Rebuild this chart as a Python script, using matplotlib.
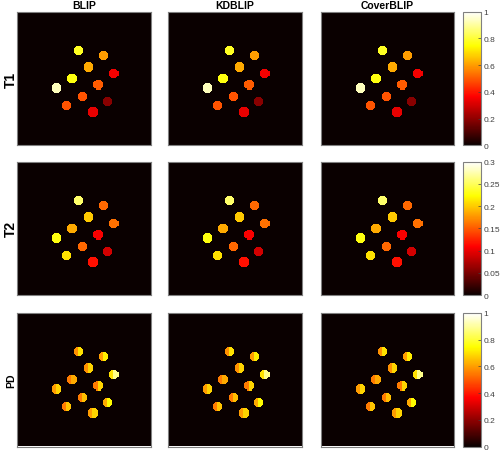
import numpy as np
import matplotlib
matplotlib.use('Agg')
import matplotlib.pyplot as plt
from matplotlib.ticker import FormatStrFormatter

plt.rcParams['font.family'] = ['Liberation Sans', 'DejaVu Sans']

methods = ['BLIP', 'KDBLIP', 'CoverBLIP']
params = ['T1', 'T2', 'PD']
vmax = [1.0, 0.3, 1.0]
cbar_ticks = [[0, 0.2, 0.4, 0.6, 0.8, 1],
              [0, 0.05, 0.1, 0.15, 0.2, 0.25, 0.3],
              [0, 0.2, 0.4, 0.6, 0.8, 1]]

# phantom tube centres (image pixels, 128x128 grid) and radius
cx = [58, 82, 68, 92, 52, 77, 37, 62, 86, 47, 72]
cy = [37, 42, 53, 59, 64, 70, 73, 81, 86, 90, 96]
radius = 4.8

# values per tube
t1 = [0.78, 0.60, 0.62, 0.35, 0.76, 0.50, 0.93, 0.49, 0.19, 0.49, 0.33]
t2 = [0.255, 0.156, 0.20, 0.16, 0.186, 0.107, 0.228, 0.156, 0.09, 0.21, 0.117]
# PD tubes look split: redder left half, brighter right half
pd_left = [0.58, 0.60, 0.58, 0.70, 0.55, 0.55, 0.60, 0.55, 0.62, 0.55, 0.60]
pd_right = [0.70, 0.72, 0.68, 0.88, 0.62, 0.68, 0.68, 0.65, 0.74, 0.66, 0.68]

N = 128
yy, xx = np.mgrid[0:N, 0:N]


def phantom(left, right):
    img = np.zeros((N, N))
    for i in range(len(cx)):
        d = (xx - cx[i]) ** 2 + (yy - cy[i]) ** 2 <= radius ** 2
        img[d & (xx < cx[i])] = left[i]
        img[d & (xx >= cx[i])] = right[i]
    return img


maps = [phantom(t1, t1), phantom(t2, t2), phantom(pd_left, pd_right)]

W, H = 500, 452
fig = plt.figure(figsize=(W / 100, H / 100), dpi=100)

col_left = [17, 168, 320.7]
row_top = [12.7, 162.7, 314]
size = 133.5
cb_left, cb_w = 463.3, 18

for r in range(3):
    for c in range(3):
        ax = fig.add_axes([col_left[c] / W, 1 - (row_top[r] + size) / H, size / W, size / H])
        im = ax.imshow(maps[r], cmap='hot', vmin=0, vmax=vmax[r],
                       interpolation='nearest', aspect='auto')
        ax.set_xticks([])
        ax.set_yticks([])
        for s in ax.spines.values():
            s.set_color('#808080')
            s.set_linewidth(0.8)
        if r == 0:
            ax.set_title(methods[c], fontsize=7.5, fontweight='bold', pad=3)
        if c == 0:
            fs = 10 if r < 2 else 7.5
            fig.text(11 / W, 1 - (row_top[r] + size / 2) / H, params[r],
                     rotation=90, fontsize=fs, fontweight='bold',
                     ha='center', va='center')
    cax = fig.add_axes([cb_left / W, 1 - (row_top[r] + size) / H, cb_w / W, size / H])
    cb = fig.colorbar(im, cax=cax, ticks=cbar_ticks[r])
    cb.ax.yaxis.set_major_formatter(FormatStrFormatter('%g'))
    cb.ax.tick_params(labelsize=6, colors='#404040', direction='in', length=2, width=0.5, pad=1.5)
    cb.outline.set_edgecolor('#808080')
    cb.outline.set_linewidth(0.8)

fig.savefig('out.png', dpi=100)
